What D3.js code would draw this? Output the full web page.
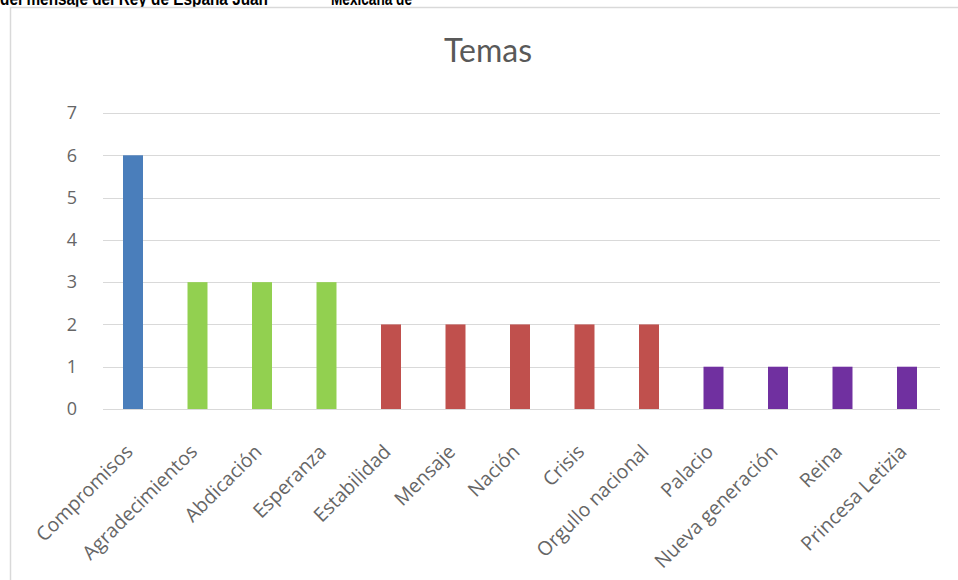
<!DOCTYPE html>
<html>
<head>
<meta charset="utf-8">
<script src="https://cdn.jsdelivr.net/npm/d3@7"></script>
<style>
  html, body { margin: 0; padding: 0; background: #fff; }
  svg { display: block; }
</style>
</head>
<body>
<svg id="chart" width="958" height="580"></svg>
<script>
const categories = ["Compromisos", "Agradecimientos", "Abdicación", "Esperanza", "Estabilidad", "Mensaje", "Nación", "Crisis", "Orgullo nacional", "Palacio", "Nueva generación", "Reina", "Princesa Letizia"];
const values = [6, 3, 3, 3, 2, 2, 2, 2, 2, 1, 1, 1, 1];
const yTicks = [0, 1, 2, 3, 4, 5, 6, 7];
const colorByValue = { 6: "#4a7ebb", 3: "#92d050", 2: "#c0504d", 1: "#7030a0" };
const chartTitle = "Temas";
const headerTexts = ["del mensaje del Rey de España Juan", "Mexicana de"];

const svg = d3.select("#chart");
const fontFam = "Lato, 'Open Sans', sans-serif";
const labelFam = "'Open Sans', Lato, sans-serif";

// header text (cut off above chart, as in the source image)
const headFam = "'Liberation Sans Narrow', 'Liberation Sans', Arial, sans-serif";
svg.append("text").attr("x", 0).attr("y", 5)
  .attr("font-family", headFam).attr("font-weight", "bold")
  .attr("font-size", 18).attr("fill", "#000")
  .attr("textLength", 268).attr("lengthAdjust", "spacingAndGlyphs")
  .text(headerTexts[0]);
svg.append("text").attr("x", 331).attr("y", 5)
  .attr("font-family", headFam).attr("font-weight", "bold")
  .attr("font-size", 18).attr("fill", "#000")
  .attr("textLength", 81).attr("lengthAdjust", "spacingAndGlyphs")
  .text(headerTexts[1]);

// chart area background and border
svg.append("rect").attr("x", 10.5).attr("y", 7.5).attr("width", 960).attr("height", 600)
  .attr("fill", "#fff").attr("stroke", "#d9d9d9").attr("stroke-width", 1.5);

const plotLeft = 100.75, plotRight = 939.25, plotTop = 113, plotBottom = 409;

const x = d3.scaleBand().domain(categories).range([plotLeft, plotRight]).paddingInner(0.69).paddingOuter(0.345);
const y = d3.scaleLinear().domain([0, 7]).range([plotBottom, plotTop]);

// title
svg.append("text").attr("x", 488).attr("y", 62).attr("text-anchor", "middle")
  .attr("font-family", fontFam).attr("font-size", 32).attr("fill", "#595959")
  .text(chartTitle);

// gridlines
svg.append("g").selectAll("line").data(yTicks).join("line")
  .attr("x1", 103).attr("x2", 940)
  .attr("y1", d => Math.round(y(d)) + 0.5).attr("y2", d => Math.round(y(d)) + 0.5)
  .attr("stroke", "#d9d9d9").attr("stroke-width", 1.2);

// y axis labels
const yAxis = d3.axisLeft(y).tickValues(yTicks).tickFormat(d3.format("d")).tickSize(0).tickPadding(0);
const gy = svg.append("g").attr("transform", `translate(77,0)`).call(yAxis);
gy.select(".domain").remove();
gy.selectAll("text").attr("font-family", labelFam).attr("font-size", 18).attr("fill", "#666");

// bars
svg.append("g").selectAll("rect").data(values).join("rect")
  .attr("x", (d, i) => x(categories[i]))
  .attr("width", x.bandwidth())
  .attr("y", d => y(d))
  .attr("height", d => y(0) - y(d))
  .attr("fill", d => colorByValue[d]);

// x axis labels
const xAxis = d3.axisBottom(x).tickSize(0).tickPadding(0);
const gx = svg.append("g").attr("transform", `translate(0,${plotBottom})`).call(xAxis);
gx.select(".domain").remove();
gx.selectAll("text")
  .attr("font-family", labelFam).attr("font-size", 19.5).attr("fill", "#666")
  .attr("text-anchor", "end")
  .attr("dy", "0")
  .attr("y", 0)
  .attr("transform", "translate(1,44) rotate(-45)");
</script>
</body>
</html>
